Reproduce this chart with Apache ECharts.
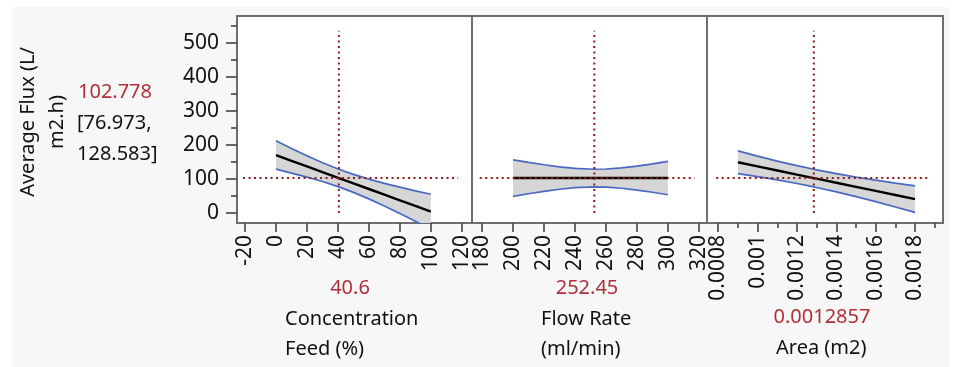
<!DOCTYPE html>
<html>
<head>
<meta charset="utf-8">
<script src="https://cdn.jsdelivr.net/npm/echarts@6/dist/echarts.min.js"></script>
<style>
  html, body { margin: 0; padding: 0; background: #ffffff; }
  #panel { position: absolute; left: 12px; top: 7px; width: 937px; height: 360px; background: #f7f7f7; }
  #chart { position: absolute; left: 0; top: 0; width: 963px; height: 367px; }
</style>
</head>
<body>
<div id="panel"></div>
<div id="chart"></div>
<script>
// Prediction profiler: Average Flux vs. three factors

// Current factor settings and predicted response
const feedNow = 40.6;
const flowNow = 252.45;
const areaNow = 0.0012857;
const fluxNow = 102.778;
const fluxCI = [76.973, 128.583];

// Concentration Feed (%) profile
const feedX     = [0, 10, 20, 30, 40.6, 50, 60, 70, 80, 90, 100];
const feedFit   = [170, 153.4, 136.9, 120.3, 102.8, 87.2, 70.7, 54.1, 37.5, 20.9, 4.4];
const feedUpper = [212, 189.6, 168.2, 147.9, 128.6, 113.5, 99.6, 87.2, 76.0, 65.4, 55.4];
const feedLower = [129, 117.2, 105.6, 92.7, 77.0, 60.9, 41.8, 21.0, -1.0, -23.6, -46.6];

// Flow Rate (ml/min) profile
const flowX     = [200, 210, 220, 230, 240, 252.45, 260, 270, 280, 290, 300];
const flowFit   = [102.8, 102.8, 102.8, 102.8, 102.8, 102.8, 102.8, 102.8, 102.8, 102.8, 102.8];
const flowUpper = [156.3, 148.8, 141.8, 135.7, 131.0, 128.6, 129.3, 132.7, 138.0, 144.5, 151.7];
const flowLower = [49.3, 56.8, 63.8, 69.9, 74.6, 77.0, 76.3, 72.9, 67.6, 61.1, 53.9];

// Area (m2) profile
const areaX     = [0.0009, 0.001, 0.0011, 0.0012, 0.0012857, 0.0013, 0.0014, 0.0015, 0.0016, 0.0017, 0.0018];
const areaFit   = [149, 137, 125, 113, 102.8, 101, 89, 77, 65, 53, 41];
const areaUpper = [182.3, 167.1, 152.6, 139.2, 128.6, 126.8, 115.7, 105.7, 96.5, 88.0, 80.0];
const areaLower = [115.7, 106.9, 97.4, 86.8, 77.0, 75.2, 62.3, 48.3, 33.5, 18.0, 2.0];

// Axis ranges and tick labels
const yRange = [-29, 578];
const yTicks = [0, 100, 200, 300, 400, 500];
const yMinorTicks = [50, 150, 250, 350, 450, 550];
const feedRange = [-25.2, 126.6];
const feedTicks = [-20, 0, 20, 40, 60, 80, 100, 120];
const flowRange = [173.5, 325.2];
const flowTicks = [180, 200, 220, 240, 260, 280, 300, 320];
const areaRange = [0.000743, 0.001942];
const areaTicks = [0.0008, 0.001, 0.0012, 0.0014, 0.0016, 0.0018];
const areaMinorTicks = [0.0009, 0.0011, 0.0013, 0.0015, 0.0017, 0.0019];

// Extent of the dotted reference lines
const crossY = [0, 535];
const feedCrossX = [-21.3, 117.6];
const flowCrossX = [178.5, 317.2];
const areaCrossX = [0.00079, 0.001876];

const FONT = '"Noto Sans", "Open Sans", sans-serif';
const TXT = '#111111';
const RED = '#b0303a';
const BLUE = '#4a68c2';
const BAND = '#d6d6d6';
const TICK = { color: '#444444', width: 1.6 };

const chart = echarts.init(document.getElementById('chart'), null, { renderer: 'canvas' });

const gridLefts = [237, 472, 707];
const grids = gridLefts.map((l, i) => ({
  left: l, top: 16, width: i === 2 ? 236 : 235, height: 207,
  show: true, backgroundColor: '#ffffff', borderColor: '#6e6e6e', borderWidth: 2
}));

function xAxisFor(gi, range, ticks, minor) {
  const main = {
    type: 'value', gridIndex: gi, min: range[0], max: range[1], position: 'bottom',
    axisLine: { show: false, onZero: false }, splitLine: { show: false },
    axisTick: { show: true, customValues: ticks, length: 9, lineStyle: TICK },
    axisLabel: { show: true, customValues: ticks, rotate: 90, margin: 12, fontSize: 21, fontFamily: FONT, color: TXT,
                 formatter: v => String(v) }
  };
  const out = [main];
  if (minor) {
    out.push({
      type: 'value', gridIndex: gi, min: range[0], max: range[1], position: 'bottom', offset: 0,
      axisLine: { show: false, onZero: false }, splitLine: { show: false },
      axisTick: { show: true, customValues: minor, length: 5, lineStyle: TICK },
      axisLabel: { show: false }
    });
  }
  return out;
}

const xAxes = [
  ...xAxisFor(0, feedRange, feedTicks),
  ...xAxisFor(1, flowRange, flowTicks),
  ...xAxisFor(2, areaRange, areaTicks, areaMinorTicks)
];

const yAxes = [0, 1, 2].map(gi => ({
  type: 'value', gridIndex: gi, min: yRange[0], max: yRange[1], position: 'left',
  axisLine: { show: false, onZero: false }, splitLine: { show: false },
  axisTick: { show: gi === 0, customValues: yTicks, length: 11, lineStyle: TICK },
  axisLabel: { show: gi === 0, customValues: yTicks, margin: 18, fontSize: 21, fontFamily: FONT, color: TXT }
}));
yAxes.push({
  type: 'value', gridIndex: 0, min: yRange[0], max: yRange[1], position: 'left', offset: 0,
  axisLine: { show: false, onZero: false }, splitLine: { show: false },
  axisTick: { show: true, customValues: yMinorTicks, length: 6, lineStyle: TICK },
  axisLabel: { show: false }
});

const pair = (xs, ys) => xs.map((x, i) => [x, ys[i]]);

function profileSeries(xi, yi, xs, fit, upper, lower, nowX, crossX, tag) {
  const base = { type: 'line', xAxisIndex: xi, yAxisIndex: yi, symbol: 'none', silent: true, animation: false };
  return [
    {
      type: 'custom', name: tag + ' band', xAxisIndex: xi, yAxisIndex: yi, silent: true, clip: true, z: 1,
      data: [0],
      renderItem: (params, api) => {
        const top = xs.map((x, i) => api.coord([x, upper[i]]));
        const bottom = xs.map((x, i) => api.coord([x, lower[i]])).reverse();
        return { type: 'polygon', shape: { points: top.concat(bottom) }, style: { fill: BAND } };
      }
    },
    { ...base, name: tag + ' upper', data: pair(xs, upper), lineStyle: { color: BLUE, width: 1.7 }, z: 2 },
    { ...base, name: tag + ' lower', data: pair(xs, lower), lineStyle: { color: BLUE, width: 1.7 }, z: 2 },
    { ...base, name: tag + ' fit', data: pair(xs, fit), lineStyle: { color: '#000000', width: 2.4 }, z: 3 },
    { ...base, name: tag + ' v', data: [[nowX, crossY[0]], [nowX, crossY[1]]],
      lineStyle: { color: '#8b1a1a', width: 2, type: [2, 3.5] }, z: 4 },
    { ...base, name: tag + ' h', data: [[crossX[0], fluxNow], [crossX[1], fluxNow]],
      lineStyle: { color: '#8b1a1a', width: 2, type: [2, 3.5] }, z: 4 }
  ];
}

const series = [
  ...profileSeries(0, 0, feedX, feedFit, feedUpper, feedLower, feedNow, feedCrossX, 'feed'),
  ...profileSeries(1, 1, flowX, flowFit, flowUpper, flowLower, flowNow, flowCrossX, 'flow'),
  ...profileSeries(3, 2, areaX, areaFit, areaUpper, areaLower, areaNow, areaCrossX, 'area')
];

const txt = (text, x, y, opt = {}) => ({
  type: 'text', x, y, rotation: opt.rotation || 0, silent: true,
  style: { text, fill: opt.color || TXT, font: (opt.size || 20) + 'px ' + FONT,
           textAlign: opt.align || 'left', textVerticalAlign: 'middle' }
});

const graphics = [
  txt('Average Flux (L/', 28, 122, { rotation: Math.PI / 2, align: 'center', size: 20 }),
  txt('m2.h)', 57, 122, { rotation: Math.PI / 2, align: 'center', size: 20 }),
  txt(String(fluxNow), 78, 92, { color: RED }),
  txt('[' + fluxCI[0] + ',', 77, 123),
  txt(fluxCI[1] + ']', 77, 154),
  txt(String(feedNow), 350, 288, { color: RED, align: 'center' }),
  txt('Concentration', 285, 319),
  txt('Feed (%)', 285, 349),
  txt(String(flowNow), 587, 288, { color: RED, align: 'center' }),
  txt('Flow Rate', 541, 319),
  txt('(ml/min)', 541, 349),
  txt(String(areaNow), 822, 317, { color: RED, align: 'center' }),
  txt('Area (m2)', 776, 348)
];

chart.setOption({
  backgroundColor: 'transparent',
  animation: false,
  grid: grids,
  xAxis: xAxes,
  yAxis: yAxes,
  series,
  graphic: graphics
});
</script>
</body>
</html>
